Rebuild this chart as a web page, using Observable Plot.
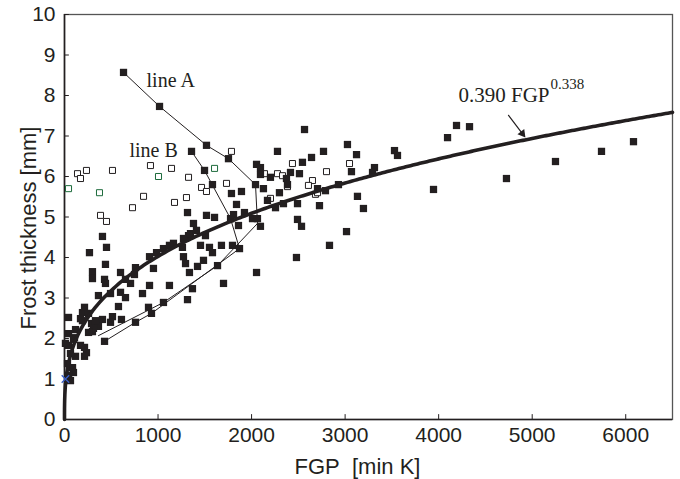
<!DOCTYPE html>
<html><head><meta charset="utf-8">
<script src="https://cdn.jsdelivr.net/npm/d3@7"></script>
<script src="https://cdn.jsdelivr.net/npm/@observablehq/plot@0.6"></script>
<style>body{margin:0;background:#fff}</style>
</head><body><div id="chart"></div>
<script>
const xTicks = [0, 1000, 2000, 3000, 4000, 5000, 6000];
const yTicks = [0, 1, 2, 3, 4, 5, 6, 7, 8, 9, 10];

const filledX = [631,1016,1518,1753,1358,2042,1497,1582,1785,1892,2053,2095,1839,1315,1518,1604,1807,1924,2010,406,449,267,1379,1326,1507,1261,1454,1550,1582,1678,1796,1871,1486,2566,3025,2277,2769,2641,2544,2095,2202,2416,2512,2373,2384,2127,2298,2170,2256,2341,2491,2726,1775,2063,2095,1860,2491,2534,3015,2833,1272,1294,1422,1336,1636,2480,2053,1700,1122,1368,1315,1058,1165,1272,1347,1411,3068,3314,3293,3132,3196,2705,2790,2929,3122,3528,3560,4095,3945,4191,4330,4725,5249,5741,6083,438,299,299,428,438,599,759,748,652,706,909,984,1058,1122,951,909,834,599,652,492,363,577,898,930,513,492,609,406,289,363,428,299,118,43,107,43,214,235,214,118,86,96,43,64,192,192,214,257,43,10,171,331,310,257,96,171,32,43,759,64];
const filledY = [8.57,7.73,6.77,6.44,6.62,5.80,6.15,5.80,5.58,5.63,6.30,6.22,5.31,5.11,5.04,4.99,5.06,5.11,4.96,4.52,4.25,4.12,4.84,4.54,4.54,4.25,4.30,4.25,4.12,4.30,4.30,4.22,3.93,7.16,6.79,6.62,6.62,6.47,6.35,6.05,5.98,6.10,6.07,5.95,5.80,5.70,5.60,5.41,5.23,5.33,5.33,5.28,4.96,4.96,4.77,4.79,4.94,4.77,4.64,4.30,4.02,3.85,3.78,3.63,3.80,4.00,3.63,3.36,3.31,3.23,2.96,2.89,4.35,4.47,4.59,4.67,6.12,6.22,6.10,5.51,5.21,5.70,5.65,5.80,6.54,6.64,6.52,6.96,5.68,7.26,7.23,5.95,6.37,6.62,6.86,3.83,3.65,3.48,3.46,3.36,3.63,3.75,3.58,3.46,3.36,4.02,4.12,4.22,4.30,3.73,3.31,3.11,3.14,3.01,3.11,3.06,2.79,2.77,2.62,2.54,2.40,2.47,2.47,2.37,2.30,1.93,2.17,2.22,2.52,2.02,1.83,1.78,1.65,1.56,1.56,1.28,1.16,1.09,0.96,2.44,2.64,2.77,2.62,2.12,1.88,2.49,2.44,2.25,2.15,1.98,1.83,1.38,1.01,2.40,1.63];

const openX = [139,171,235,513,919,1144,1326,1465,1518,1732,1785,845,727,1176,1304,385,449,2437,2801,3047,2651,2608,2384,2138,2277,2331,2202,2683,2705];
const openY = [6.07,5.95,6.15,6.15,6.27,6.20,5.98,5.73,5.63,5.83,6.62,5.51,5.23,5.36,5.48,5.04,4.89,6.32,6.12,6.32,5.90,5.78,5.75,6.07,6.07,6.02,5.46,5.56,5.60];

const greenX = [43, 374, 1005, 1604];
const greenY = [5.70, 5.60, 6.00, 6.20];

const crossX = [10];
const crossY = [1.0];

const lineAX = [631,1016,1518,1753,2042,2063,1636,1058,363];
const lineAY = [8.57,7.73,6.77,6.44,5.80,4.84,3.80,2.89,2.07];
const lineBX = [1358,1497,1775,1871,930,759,428];
const lineBY = [6.62,6.15,4.96,4.22,2.62,2.40,1.93];

const fitA = 0.390, fitB = 0.338;
const fitX = [0,1e-6,1e-5,1e-4,1e-3,0.01,0.03,0.1,0.3,1,2,4,7,10,15,20,30,40,60,80].concat(d3.range(100, 6501, 25));
const fit = fitX.map(x => ({x, y: fitA * Math.pow(x, fitB)}));

const rows = (xs, ys) => xs.map((x, i) => ({x, y: ys[i]}));
const ink = "#231f20";
const serif = "'Liberation Serif', 'Times New Roman', serif";

const chart = Plot.plot({
  width: 680, height: 479,
  marginLeft: 64, marginRight: 8, marginTop: 14, marginBottom: 60,
  x: {domain: [0, 6500]},
  y: {domain: [0, 10]},
  style: {fontFamily: "'Liberation Sans', Arial, sans-serif", fontSize: "21px", color: ink, background: "#fff", overflow: "visible"},
  marks: [
    Plot.frame({stroke: "#555", strokeWidth: 1.3}),
    Plot.ruleX(xTicks, {x: d => d, y1: 0, y2: 0.12, stroke: ink, strokeWidth: 1}),
    Plot.ruleY(yTicks, {y: d => d, x1: 0, x2: 52, stroke: ink, strokeWidth: 1}),
    Plot.ruleX([0], {stroke: ink, strokeWidth: 1.6}),
    Plot.ruleY([0], {stroke: ink, strokeWidth: 1.6}),
    Plot.axisX({ticks: xTicks, tickSize: 0, tickPadding: 8, tickFormat: d3.format("d"), label: null}),
    Plot.axisY({ticks: yTicks, tickSize: 0, tickPadding: 9, tickFormat: d3.format("d"), label: null}),
    Plot.line(rows(lineAX, lineAY), {x: "x", y: "y", stroke: ink, strokeWidth: 1}),
    Plot.line(rows(lineBX, lineBY), {x: "x", y: "y", stroke: ink, strokeWidth: 1}),
    Plot.dot(rows(openX, openY), {x: "x", y: "y", symbol: "square", r: 3.4, fill: "#fff", stroke: ink, strokeWidth: 1}),
    Plot.dot(rows(greenX, greenY), {x: "x", y: "y", symbol: "square", r: 3.4, fill: "#fff", stroke: "#1d6b3c", strokeWidth: 1}),
    Plot.dot(rows(filledX, filledY), {x: "x", y: "y", symbol: "square", r: 4.1, fill: ink}),
    Plot.line(fit, {x: "x", y: "y", stroke: ink, strokeWidth: 3.6}),
    Plot.dot(rows(crossX, crossY), {x: "x", y: "y", symbol: "times", r: 3.5, stroke: "#3a5fc8", strokeWidth: 1.3}),
    Plot.text(["line A"], {x: 877, y: 8.22, textAnchor: "start", lineAnchor: "bottom", fontFamily: serif, fontSize: 20}),
    Plot.text(["line B"], {x: 695, y: 6.47, textAnchor: "start", lineAnchor: "bottom", fontFamily: serif, fontSize: 20}),
    Plot.text(["0.390 FGP"], {x: 4212, y: 7.83, textAnchor: "start", lineAnchor: "bottom", fontFamily: serif, fontSize: 21}),
    Plot.text(["0.338"], {x: 5196, y: 8.15, textAnchor: "start", lineAnchor: "bottom", fontFamily: serif, fontSize: 15}),
    Plot.arrow([{x1: 4747, y1: 7.51, x2: 4895, y2: 7.06}], {x1: "x1", y1: "y1", x2: "x2", y2: "y2", stroke: ink, strokeWidth: 1.2, headLength: 0}),
    Plot.dot([{x: 4895, y: 7.06}], {x: "x", y: "y", symbol: "triangle", r: 3.2, rotate: 142, fill: ink}),
    Plot.text(["FGP\u00a0 [min K]"], {frameAnchor: "bottom", dx: -11, dy: 54, lineAnchor: "bottom", fontSize: 22}),
    Plot.text(["Frost thickness [mm]"], {frameAnchor: "left", rotate: -90, textAnchor: "middle", dx: -29, dy: 11, lineAnchor: "bottom", fontSize: 22})
  ]
});
document.getElementById("chart").append(chart);
</script>
</body></html>
